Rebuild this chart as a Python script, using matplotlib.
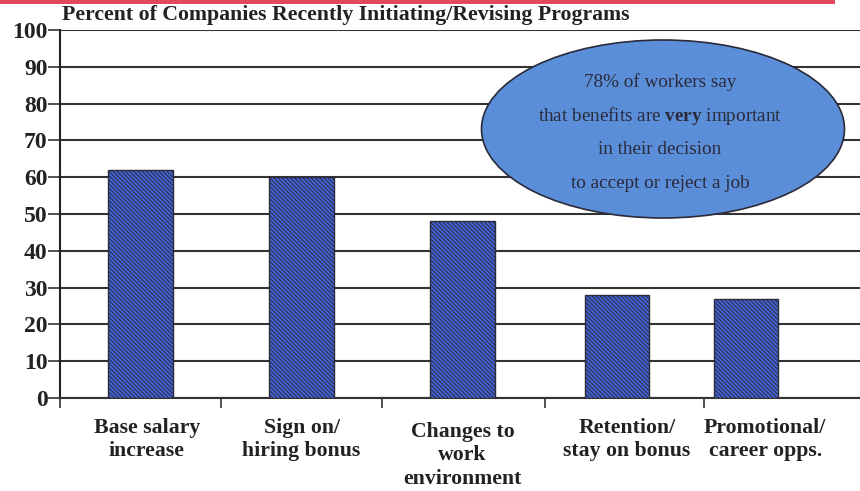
import matplotlib
matplotlib.use("Agg")
import matplotlib.pyplot as plt
from matplotlib.patches import Ellipse, Rectangle

plt.rcParams['font.family'] = ['Liberation Serif', 'DejaVu Serif']
plt.rcParams['mathtext.fontset'] = 'custom'
plt.rcParams['mathtext.rm'] = 'Liberation Serif'
plt.rcParams['mathtext.bf'] = 'Liberation Serif:bold'
plt.rcParams['hatch.color'] = '#2b42a6'
plt.rcParams['hatch.linewidth'] = 0.7

# survey data
categories = ["Base salary\nincrease", "Sign on/\nhiring bonus", "Changes to\nwork\nenvironment",
              "Retention/\nstay on bonus", "Promotional/\ncareer opps."]
percent = [62, 60, 48, 28, 27]
yticks = list(range(0, 101, 10))
title = "Percent of Companies Recently Initiating/Revising Programs"
callout = ["78% of workers say",
           r"that benefits are $\mathbf{very}$ important",
           "in their decision",
           "to accept or reject a job"]

# layout
bar_x = [0.0, 1.0, 2.0, 2.96, 3.76]
label_x = [0.04, 1.0, 2.0, 3.02, 3.88]
label_dy = [0, 0, -4, 0, 0]
bar_w = 0.40

fig = plt.figure(figsize=(8.6, 4.91), dpi=100)
ax = fig.add_axes([60/860, 1-398/491, 1-60/860, (398-30)/491])

ax.bar(bar_x, percent, width=bar_w, color='#4264d6', edgecolor='#2a2a3a',
       linewidth=1.0, hatch='\\\\\\\\\\\\\\\\', zorder=3)

ax.set_ylim(0, 100)
ax.set_xlim(-0.5, -0.5 + 800/161)
ax.set_yticks(yticks)
ax.set_yticklabels([str(v) for v in yticks], fontsize=17, fontweight='bold', color='#222222')
ax.tick_params(axis='y', length=9, width=1.2, color='#333333', pad=0)
ax.grid(axis='y', color='#333333', linewidth=1.5, zorder=0)
ax.set_axisbelow(True)

ax.set_xticks([-0.5, 0.5, 1.5, 2.51, 3.5])
ax.set_xticklabels([])
ax.tick_params(axis='x', length=7, width=1.2, color='#333333', direction='out')

for s in ['top', 'right']:
    ax.spines[s].set_visible(False)
ax.spines['left'].set_color('#222222')
ax.spines['left'].set_linewidth(1.5)
ax.spines['bottom'].set_color('#333333')
ax.spines['bottom'].set_linewidth(1.5)

for x, lab, dy in zip(label_x, categories, label_dy):
    ax.annotate(lab, xy=(x, 0), xycoords=('data', 'data'), xytext=(0, -20 + dy),
                textcoords='offset pixels', ha='center', va='top', fontsize=15.7,
                fontweight='bold', color='#222222', linespacing=1.22)

fig.text(62/860, 1-15/491, title, fontsize=15.7, fontweight='bold', color='#222222',
         ha='left', va='center')

# red stripe along the top edge
fig.patches.append(Rectangle((0, 1-4/491), 835/860, 4/491, transform=fig.transFigure,
                             facecolor='#e04a5c', edgecolor='none', zorder=5))

# callout bubble
ell = Ellipse((663/860, 1-129/491), 363/860, 178/491, transform=fig.transFigure,
              facecolor='#5b8ed8', edgecolor='#2a2a3a', linewidth=1.2, zorder=6)
fig.patches.append(ell)
for i, line in enumerate(callout):
    fig.text(660/860, 1-(82 + i*33.7)/491, line, fontsize=13.8, color='#2a2a3a',
             ha='center', va='center', zorder=7)

fig.savefig("out.png", dpi=100)
